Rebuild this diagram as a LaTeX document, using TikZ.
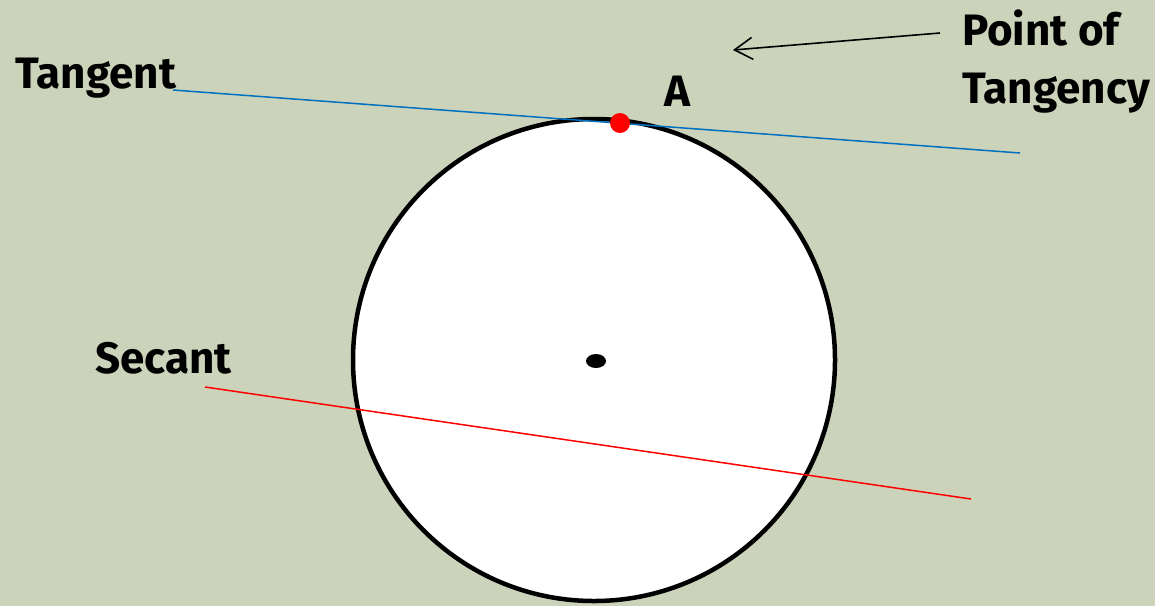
\documentclass[tikz,border=0pt]{standalone}
\usepackage{fontspec}
\setmainfont{Fira Sans}
\usetikzlibrary{shapes.geometric,arrows.meta}
\definecolor{bg}{RGB}{204,211,187}
\definecolor{tanblue}{RGB}{0,112,192}
\definecolor{dotred}{RGB}{255,0,0}
\begin{document}
\begin{tikzpicture}[x=1pt,y=-1pt,
  lbl/.style={anchor=base west,inner sep=0pt,font=\fontsize{44}{52}\selectfont\bfseries},
  tline/.style={draw=tanblue,line width=1.5pt},
  sline/.style={draw=dotred,line width=1.5pt}]
\fill[bg] (0,0) rectangle (1155,606);
\useasboundingbox (0,0) rectangle (1155,606);
% circle
\node[circle,draw=black,fill=white,line width=4.5pt,minimum size=482pt,inner sep=0pt] (circ) at (594,360) {};
\node[ellipse,fill=black,minimum width=20pt,minimum height=14pt,inner sep=0pt] (ctr) at (596,361) {};
% tangent
\coordinate (t1) at (173,90);
\coordinate (t2) at (1020,153);
\draw[tline] (t1) -- (t2);
\node[circle,fill=dotred,minimum size=20pt,inner sep=0pt] (A) at (620,123) {};
% secant
\coordinate (s1) at (205,387);
\coordinate (s2) at (971,499);
\draw[sline] (s1) -- (s2);
% labels
\node[lbl] (ltan) at (15,88) {Tangent};
\node[lbl] (lsec) at (95,373) {Secant};
\node[lbl] (lA) at (664,106) {A};
\node[lbl] (lp1) at (962,45) {Point of};
\node[lbl] (lp2) at (962,103) {Tangency};
% arrow
\coordinate (ah) at (733,50);
\coordinate (as) at (940,33);
\draw[line width=1.6pt,-{Straight Barb[length=18pt,width=22pt,line width=1.6pt]}] (as) -- (ah);
\end{tikzpicture}
\end{document}
